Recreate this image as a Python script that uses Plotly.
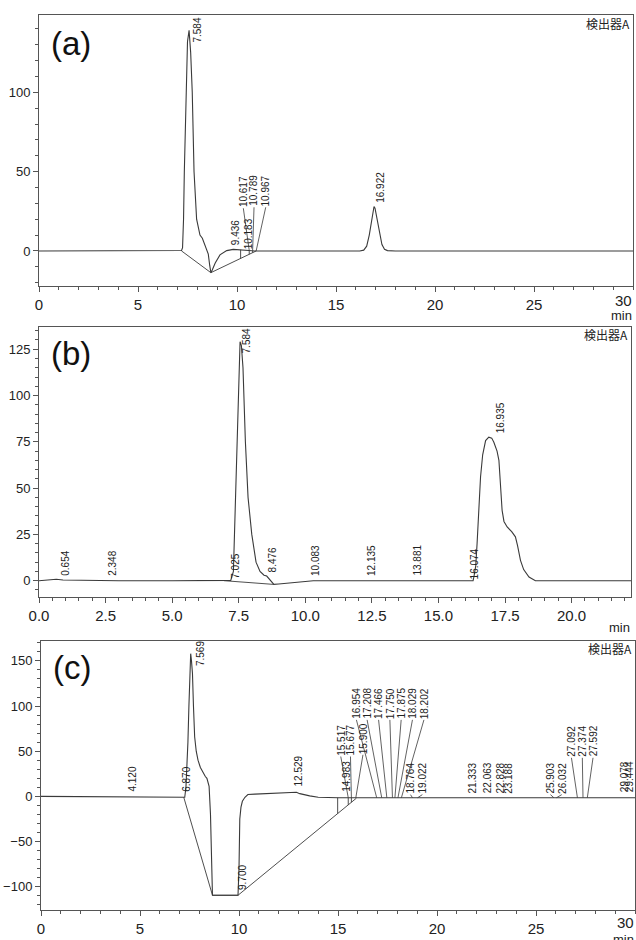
import numpy as np
import plotly.graph_objects as go

W, H = 636, 940

# ---------------- data: panel (a) ----------------
t_a = [0, 3, 6, 7.0, 7.2, 7.25, 7.3, 7.34, 7.42, 7.5, 7.58, 7.66, 7.74, 7.83, 7.96,
       8.05, 8.13, 8.25, 8.35, 8.45, 8.55, 8.62, 8.68, 8.75, 8.9, 9.14, 9.48, 9.81,
       10.15, 10.2, 10.6, 10.9, 14, 16.2, 16.4, 16.55, 16.68, 16.8, 16.88, 16.92,
       16.97, 17.05, 17.18, 17.32, 17.45, 17.6, 18, 22, 30]
y_a = [0, 0, 0, 0, 0.3, 2, 20, 50, 100, 132, 139, 125, 100, 50, 20,
       14, 10, 8, 5, 2, -2, -9, -13.7, -12, -7.6, -2.5, 0.2, 1.0,
       0.9, 0.6, 0.3, 0, 0, 0, 0.5, 3, 10, 20, 26, 28,
       27, 22, 12, 4, 1, 0.2, 0, 0, 0]
base_a_t = [7.2, 8.68, 10.97]
base_a_y = [0, -13.7, 0]
drop_a = [10.183, 10.617, 10.789]
lab_a = ['7.584', '9.436', '10.183', '10.617', '10.789', '10.967', '16.922']
lab_a_x = [8.03, 9.9, 10.6, 10.32, 10.86, 11.45, 17.27]
lab_a_y = [131, 2.7, 0.6, 26.9, 27.5, 27.5, 30]
lead_a = [False, False, False, True, True, True, False]

# ---------------- data: panel (b) ----------------
t_b = [0, 0.4, 0.65, 0.9, 2.0, 2.35, 3.0, 5, 6.5, 7.0, 7.2, 7.3, 7.34, 7.43, 7.5,
       7.55, 7.6, 7.66, 7.75, 7.85, 7.99, 8.15, 8.3, 8.45, 8.55, 8.7, 8.82, 9.0,
       9.5, 10.0, 10.3, 12, 14, 16, 16.3, 16.33, 16.4, 16.45, 16.52, 16.58, 16.66,
       16.77, 16.89, 17.0, 17.08, 17.2, 17.27, 17.33, 17.39, 17.46, 17.58, 17.75,
       17.89, 17.97, 18.08, 18.2, 18.4, 18.64, 19, 22.23]
y_b = [0, 0.3, 0.8, 0.4, 0, 0.2, 0, 0, 0, 0, 0.2, 5, 25, 75, 110,
       129, 127, 115, 75, 45, 25, 10, 5, 3, 2.5, 0, -2, -1.8,
       -1, -0.3, 0, 0, 0, 0, 0, 2, 8, 20, 38, 56, 68,
       75.7, 77.5, 77, 74.8, 70, 65, 52, 38, 32, 29, 26.5,
       23.7, 19, 11, 6, 2, 0, 0, 0]
base_b_t = [6.95, 8.82]
base_b_y = [0, -2]
drop_b = []
lab_b = ['0.654', '2.348', '7.025', '7.584', '8.476', '10.083', '12.135', '13.881',
         '16.074', '16.935']
lab_b_x = [1.0, 2.73, 7.37, 7.8, 8.78, 10.36, 12.46, 14.21, 16.37, 17.31]
lab_b_y = [2.2, 2.2, 0.4, 122.3, 4.1, 2.2, 2.2, 2.2, 0.4, 79.3]
lead_b = [False] * 10

# ---------------- data: panel (c) ----------------
t_c = [0, 2, 4, 5, 6, 7.0, 7.26, 7.32, 7.37, 7.42, 7.47, 7.52, 7.56, 7.6, 7.65,
       7.7, 7.76, 7.84, 7.93, 8.05, 8.18, 8.3, 8.38, 8.45, 8.49, 8.56, 8.62, 8.66,
       9.0, 9.5, 9.95, 10.0, 10.04, 10.1, 10.17, 10.3, 10.45, 10.8, 11.38, 12.0,
       12.5, 12.73, 12.9, 13.07, 13.3, 13.57, 14.0, 14.5, 15.0, 16, 20, 25, 30]
y_c = [0, -0.5, -1, -1, -1.5, -1.5, -1, 10, 29, 60, 100, 140, 158, 150, 136,
       100, 66, 50, 40, 32, 26, 22, 20, 15, 11, -20, -80, -109.5,
       -109.5, -109.5, -109.5, -80, -25, -12, -5.5, -1, 2, 2.5, 3, 3.5,
       4, 4.8, 4.5, 3, 1.5, 0.5, -1, -1.5, -1.5, -1.5, -1.5, -1.5, -1.5]
base_c_t = [7.21, 8.66, 9.95, 15.93]
base_c_y = [-1, -109.5, -109.5, -2]
drop_c = [14.983, 15.517, 15.677]
lab_c = ['4.120', '6.870', '7.569', '9.700', '12.529', '14.983', '15.517', '15.677',
         '15.900', '16.954', '17.208', '17.466', '17.750', '17.875', '18.029',
         '18.202', '18.764', '19.022', '21.333', '22.063', '22.828', '23.188',
         '25.903', '26.032', '27.092', '27.374', '27.592', '29.078', '29.444']
lab_c_x = [4.6, 7.34, 8.02, 10.17, 12.98, 15.42, 15.14, 15.63,
           16.26, 15.93, 16.47, 17.05, 17.62, 18.19, 18.76,
           19.34, 18.66, 19.26, 21.79, 22.53, 23.2, 23.57,
           25.73, 26.3, 26.79, 27.34, 27.88, 29.48, 29.73]
lab_c_y = [3.75, 3.75, 143.5, -104.9, 9.3, 3.75, 44.1, 44.1,
           46, 84.7, 84.7, 84.7, 84.7, 84.7, 84.7,
           84.7, 1.9, 1.9, 1.9, 1.9, 1.9, 1.9,
           1.9, 1.9, 42.7, 42.7, 42.7, 3.75, 3.75]
lead_c = [False, False, False, False, False, False, True, True,
          True, True, True, True, True, True, True,
          True, True, True, False, False, False, False,
          True, True, True, True, True, False, False]

# ---------------- layout geometry ----------------
LINE = '#3a3a3a'
TXT = '#222222'
FONT = 'Liberation Sans, Arial, sans-serif'

panels = [
    dict(ax='', t=t_a, y=y_a, bt=base_a_t, by=base_a_y, drops=drop_a,
         labs=lab_a, lx=lab_a_x, ly=lab_a_y, lead=lead_a,
         xpx=(39, 633), ypx=(15, 286), xr=[0, 30], yr=[-22.1, 148.7],
         xt=[0, 5, 10, 15, 20, 25, 30], xtt=['0', '5', '10', '15', '20', '25', ''],
         xminor=list(np.arange(0, 30.01, 1)),
         yt=[0, 50, 100], yminor=list(np.arange(-20, 148, 10)),
         tag='(a)', tagy=44, dety=23, miny=315, thirty=300),
    dict(ax='2', t=t_b, y=y_b, bt=base_b_t, by=base_b_y, drops=drop_b,
         labs=lab_b, lx=lab_b_x, ly=lab_b_y, lead=lead_b,
         xpx=(39, 631), ypx=(327, 597), xr=[0, 22.23], yr=[-8.8, 137],
         xt=[0, 2.5, 5, 7.5, 10, 12.5, 15, 17.5, 20],
         xtt=['0.0', '2.5', '5.0', '7.5', '10.0', '12.5', '15.0', '17.5', '20.0'],
         xminor=list(np.arange(0, 22.2, 0.5)),
         yt=[0, 25, 50, 75, 100, 125], yminor=list(np.arange(-5, 137, 5)),
         tag='(b)', tagy=354, dety=334, miny=627, thirty=None),
    dict(ax='3', t=t_c, y=y_c, bt=base_c_t, by=base_c_y, drops=drop_c,
         labs=lab_c, lx=lab_c_x, ly=lab_c_y, lead=lead_c,
         xpx=(41, 635), ypx=(641, 910), xr=[0, 30], yr=[-125.8, 172],
         xt=[0, 5, 10, 15, 20, 25, 30], xtt=['0', '5', '10', '15', '20', '25', ''],
         xminor=list(np.arange(0, 30.01, 1)),
         yt=[-100, -50, 0, 50, 100, 150], yminor=list(np.arange(-120, 172, 10)),
         tag='(c)', tagy=667, dety=648, miny=939, thirty=922),
]

fig = go.Figure()
annotations = []
shapes = []
layout = {}

for p in panels:
    xa = 'x' + p['ax']
    ya = 'y' + p['ax']
    # signal
    fig.add_trace(go.Scatter(x=p['t'], y=p['y'], mode='lines', xaxis=xa, yaxis=ya,
                             line=dict(color=LINE, width=1.1), hoverinfo='skip',
                             showlegend=False))
    # integration baseline
    fig.add_trace(go.Scatter(x=p['bt'], y=p['by'], mode='lines', xaxis=xa, yaxis=ya,
                             line=dict(color=LINE, width=0.9), hoverinfo='skip',
                             showlegend=False))
    # drop lines
    for rt in p['drops']:
        top = float(np.interp(rt, p['t'], p['y']))
        bot = float(np.interp(rt, p['bt'], p['by']))
        shapes.append(dict(type='line', xref=xa, yref=ya, x0=rt, x1=rt, y0=top, y1=bot,
                           line=dict(color=LINE, width=0.9)))
    # peak labels
    for txt, lx, ly, ld in zip(p['labs'], p['lx'], p['ly'], p['lead']):
        annotations.append(dict(text=txt, x=lx, y=ly, xref=xa, yref=ya,
                                textangle=-90, xanchor='center', yanchor='bottom',
                                showarrow=False, borderpad=0,
                                font=dict(family=FONT, size=10, color=TXT)))
        if ld:
            rt = float(txt)
            yend = float(np.interp(rt, p['t'], p['y']))
            shapes.append(dict(type='line', xref=xa, yref=ya, x0=lx, y0=ly,
                               x1=rt, y1=yend, line=dict(color=LINE, width=0.8)))
    # axes
    axis_common = dict(showline=True, mirror=True, linecolor='#555555', linewidth=1,
                       showgrid=False, zeroline=False, ticks='outside', ticklen=5,
                       tickcolor='#555555', tickwidth=1, automargin=False)
    xdom = [p['xpx'][0] / W, p['xpx'][1] / W]
    ydom = [1 - p['ypx'][1] / H, 1 - p['ypx'][0] / H]
    layout['xaxis' + p['ax']] = dict(
        axis_common, domain=xdom, range=p['xr'], anchor=ya, tickmode='array',
        tickvals=p['xt'], ticktext=p['xtt'],
        tickfont=dict(family=FONT, size=15, color=TXT),
        minor=dict(tickmode='array', tickvals=p['xminor'], ticks='outside',
                   ticklen=3, tickcolor='#555555'))
    layout['yaxis' + p['ax']] = dict(
        axis_common, domain=ydom, range=p['yr'], anchor=xa, tickmode='array',
        tickvals=p['yt'], tickfont=dict(family=FONT, size=13, color=TXT),
        minor=dict(tickmode='array', tickvals=p['yminor'], ticks='outside',
                   ticklen=3, tickcolor='#555555'))
    # panel tag
    annotations.append(dict(text=p['tag'], xref='paper', yref='paper',
                            x=(p['xpx'][0] + 10) / W, y=1 - p['tagy'] / H,
                            xanchor='left', yanchor='middle', showarrow=False,
                            font=dict(family=FONT, size=33, color='#111111')))
    annotations.append(dict(text='検出器A', xref='paper', yref='paper',
                            x=(p['xpx'][1] - 1) / W, y=1 - p['dety'] / H,
                            xanchor='right', yanchor='middle', showarrow=False,
                            font=dict(family='Noto Sans CJK JP', size=12, color=TXT)))
    annotations.append(dict(text='min', xref='paper', yref='paper',
                            x=p['xpx'][1] / W, y=1 - p['miny'] / H,
                            xanchor='right', yanchor='middle', showarrow=False,
                            borderpad=0,
                            font=dict(family=FONT, size=13, color=TXT)))
    if p['thirty'] is not None:
        annotations.append(dict(text='30', xref='paper', yref='paper',
                                x=p['xpx'][1] / W, y=1 - p['thirty'] / H,
                                xanchor='right', yanchor='middle', showarrow=False,
                                borderpad=0,
                                font=dict(family=FONT, size=15, color=TXT)))

fig.update_layout(width=W, height=H, margin=dict(l=0, r=0, t=0, b=0, autoexpand=False),
                  paper_bgcolor='white', plot_bgcolor='white',
                  annotations=annotations, shapes=shapes, showlegend=False,
                  **layout)

fig.write_html('out.html', config={'displayModeBar': False},
               post_script="document.body.style.margin='0';"
                           "document.body.style.overflow='hidden';")
